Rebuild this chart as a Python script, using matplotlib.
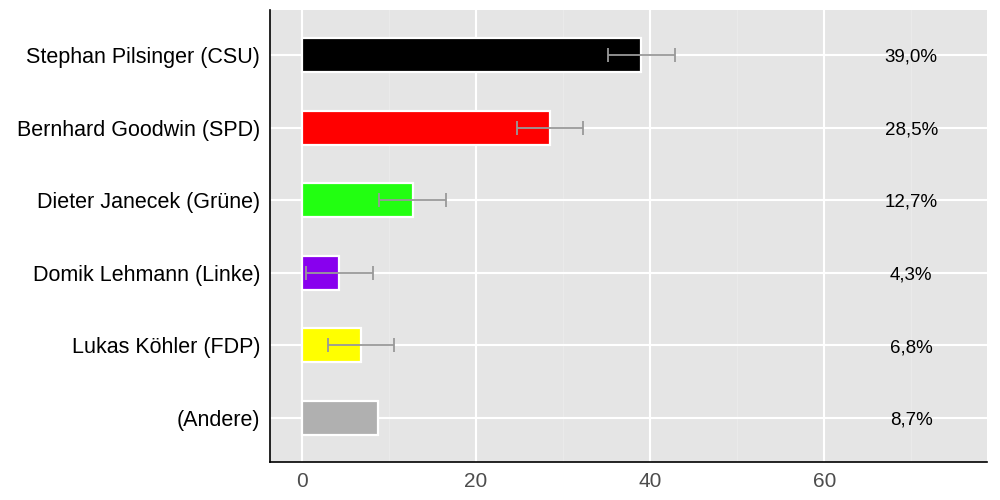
import matplotlib
matplotlib.use("Agg")
import matplotlib.pyplot as plt
from matplotlib.ticker import MultipleLocator

candidates = ["Stephan Pilsinger (CSU)", "Bernhard Goodwin (SPD)", "Dieter Janecek (Grüne)",
              "Domik Lehmann (Linke)", "Lukas Köhler (FDP)", "(Andere)"]
values = [39.0, 28.5, 12.7, 4.3, 6.8, 8.7]
errors = [3.9, 3.8, 3.8, 3.8, 3.8, None]
labels = ["39,0%", "28,5%", "12,7%", "4,3%", "6,8%", "8,7%"]
colors = ["#000000", "#ff0000", "#22ff11", "#8800ee", "#ffff00", "#b0b0b0"]

plt.rcParams['font.family'] = ['Liberation Sans', 'DejaVu Sans']

fig = plt.figure(figsize=(10, 5), dpi=100)
ax = fig.add_axes([0.27, 0.076, 0.717, 0.904])
ax.set_facecolor("#e5e5e5")

ypos = list(range(len(candidates)))
ax.set_axisbelow(True)
ax.xaxis.set_major_locator(MultipleLocator(20))
ax.xaxis.set_minor_locator(MultipleLocator(10))
ax.grid(which='major', color='white', linewidth=1.5)
ax.grid(which='minor', axis='x', color='#eaeaea', linewidth=0.8)

ax.barh(ypos, values, height=0.47, color=colors, edgecolor='white', linewidth=1.6, zorder=2)
for y, v, e in zip(ypos, values, errors):
    if e is not None:
        ax.errorbar(v, y, xerr=e, color='#999999', elinewidth=1.3, capsize=5, capthick=1.3, zorder=3)
for y, t in zip(ypos, labels):
    ax.text(70, y + 0.03, t, ha='center', va='center', fontsize=13.5, color='black', zorder=4)

ax.set_yticks(ypos)
ax.set_yticklabels(candidates, fontsize=15.5, color='black')
ax.set_xlim(-3.68, 78.7)
ax.set_ylim(5.606, -0.62)
ax.tick_params(axis='y', length=0, pad=7)
ax.tick_params(axis='x', which='major', length=0, labelsize=15, labelcolor='#4d4d4d', pad=7)
ax.tick_params(axis='x', which='minor', length=0)
for s in ['top', 'right']:
    ax.spines[s].set_visible(False)
for s in ['left', 'bottom']:
    ax.spines[s].set_color('black')
    ax.spines[s].set_linewidth(1.2)

fig.savefig("out.png", dpi=100)
